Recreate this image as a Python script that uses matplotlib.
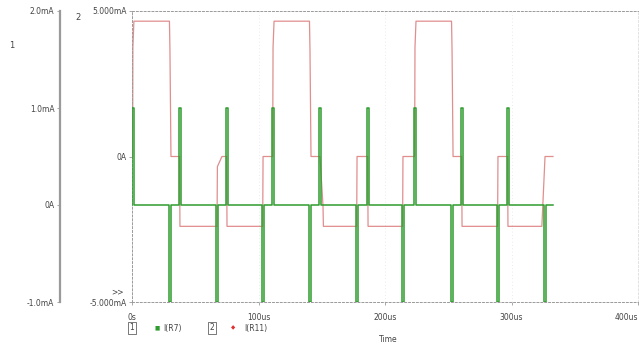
import numpy as np
import matplotlib.pyplot as plt

plt.rcParams['font.family'] = 'DejaVu Sans'
plt.rcParams['font.size'] = 5.5

# I(R11) trace, axis 2 (mA) - breakpoints
red_t = [0.0, 0.5, 0.7, 1.5, 29.6, 30.0, 30.8, 37.6, 37.9, 67.2, 67.5, 71.1,
         74.8, 75.1, 103.3, 103.6, 111.2, 111.5, 112.3, 140.3, 140.7, 141.5,
         148.6, 151.0, 151.3, 177.6, 177.9, 186.3, 186.6, 213.9, 214.2, 223.4,
         223.7, 224.5, 252.6, 253.0, 253.8, 260.6, 260.9, 289.0, 289.3, 296.9,
         297.2, 324.0, 326.5, 332.8]
red_ma = [0.0, 0.0, 3.75, 4.65, 4.65, 3.65, 0.0, 0.0, -2.4, -2.4, -0.35, 0.0,
          0.0, -2.4, -2.4, 0.0, 0.0, 3.75, 4.65, 4.65, 3.65, 0.0,
          0.0, -1.7, -2.4, -2.4, 0.0, 0.0, -2.4, -2.4, 0.0, 0.0,
          3.75, 4.65, 4.65, 3.65, 0.0, 0.0, -2.4, -2.4, 0.0, 0.0,
          -2.4, -2.4, 0.0, 0.0]

# I(R7) trace, axis 1 (mA): flat at 0 with spikes
spike_up_t = [0.8, 37.9, 75.1, 111.5, 148.6, 186.6, 223.7, 260.9, 297.2]
spike_dn_t = [30.0, 67.2, 103.6, 140.7, 177.9, 214.2, 253.0, 289.3, 326.5]
spike_up_ma = 1.0
spike_dn_ma = -1.0
green_end = 332.8

x_ticks = [0, 100, 200, 300, 400]
x_labels = ["0s", "100us", "200us", "300us", "400us"]
ax1_ticks = [2, 1, 0, -1]
ax1_labels = ["2.0mA", "1.0mA", "0A", "-1.0mA"]
ax2_ticks = [5, 0, -5]
ax2_labels = ["5.000mA", "0A", "-5.000mA"]


def build_green():
    events = sorted([(t, spike_up_ma) for t in spike_up_t] +
                    [(t, spike_dn_ma) for t in spike_dn_t])
    ts, vs = [0.0], [0.0]
    w = 0.6
    for t, a in events:
        ts += [t - w, t - w, t + w, t + w]
        vs += [0.0, a, a, 0.0]
    ts.append(green_end)
    vs.append(0.0)
    return np.array(ts), np.array(vs)


W, H = 639, 345
fig = plt.figure(figsize=(W / 100, H / 100), dpi=100)
left, right, top, bot = 132, 638, 11, 302
ax2 = fig.add_axes([left / W, (H - bot) / H, (right - left) / W, (bot - top) / H])
ax1 = ax2.twinx()

grey = "#9a9a9a"
txt = "#444444"

# axis 2 (inner) - red
ax2.plot(red_t, red_ma, color="#e08e8e", lw=0.9)
ax2.set_xlim(0, 400)
ax2.set_ylim(-5, 5)
ax2.set_yticks(ax2_ticks, labels=ax2_labels)
ax2.set_xticks(x_ticks, labels=x_labels)
ax2.tick_params(axis='both', length=2, width=0.6, color=grey, labelcolor=txt, pad=2)
ax2.tick_params(axis='x', pad=6)
for lab in ax2.get_xticklabels()[-1:]:
    lab.set_ha('right')
for s in ['top', 'bottom', 'left', 'right']:
    ax2.spines[s].set_color(grey)
    ax2.spines[s].set_linewidth(0.7)
    ax2.spines[s].set_linestyle((0, (2, 2)))
ax2.spines['right'].set_color("#e2e2e2")
ax2.xaxis.grid(True, color="#e4e4e4", linestyle=(0, (1, 3)), lw=0.6)

# axis 1 (outer) - green
gt, gv = build_green()
ax1.plot(gt, gv, color="#2f9c2f", lw=1.1)
ax1.set_ylim(-1, 2)
ax1.yaxis.set_ticks_position('left')
ax1.yaxis.set_label_position('left')
ax1.spines['left'].set_position(('axes', -72 / (right - left)))
ax1.spines['left'].set_color(grey)
ax1.spines['left'].set_linewidth(1.6)
for s in ['top', 'bottom', 'right']:
    ax1.spines[s].set_visible(False)
ax1.set_yticks(ax1_ticks, labels=ax1_labels)
ax1.tick_params(axis='y', length=2, width=0.6, color=grey, labelcolor=txt, pad=2)

# axis numbers, selection marker
fig.text(12 / W, 1 - 45 / H, "1", color=txt, ha='center', va='center', fontsize=6)
fig.text(78 / W, 1 - 17 / H, "2", color=txt, ha='center', va='center', fontsize=6)
fig.text(118 / W, 1 - 292 / H, ">>", color=txt, ha='center', va='center', fontsize=5.5)
fig.text(388 / W, 1 - 340 / H, "Time", color=txt, ha='center', va='center', fontsize=5.5)

# legend row
ly = 1 - 328 / H
fig.text(132 / W, ly, "1", color=txt, ha='center', va='center', fontsize=5.5,
         bbox=dict(boxstyle='square,pad=0.15', fc='white', ec=txt, lw=0.5))
fig.text(157 / W, ly, "\u25a0", color="#2f9c2f", ha='center', va='center', fontsize=4)
fig.text(163 / W, ly, "I(R7)", color=txt, ha='left', va='center', fontsize=5.5)
fig.text(212 / W, ly, "2", color=txt, ha='center', va='center', fontsize=5.5,
         bbox=dict(boxstyle='square,pad=0.15', fc='white', ec=txt, lw=0.5))
fig.text(233 / W, ly, "\u25c6", color="#e03030", ha='center', va='center', fontsize=4)
fig.text(244 / W, ly, "I(R11)", color=txt, ha='left', va='center', fontsize=5.5)

fig.savefig("out.png", dpi=100)
